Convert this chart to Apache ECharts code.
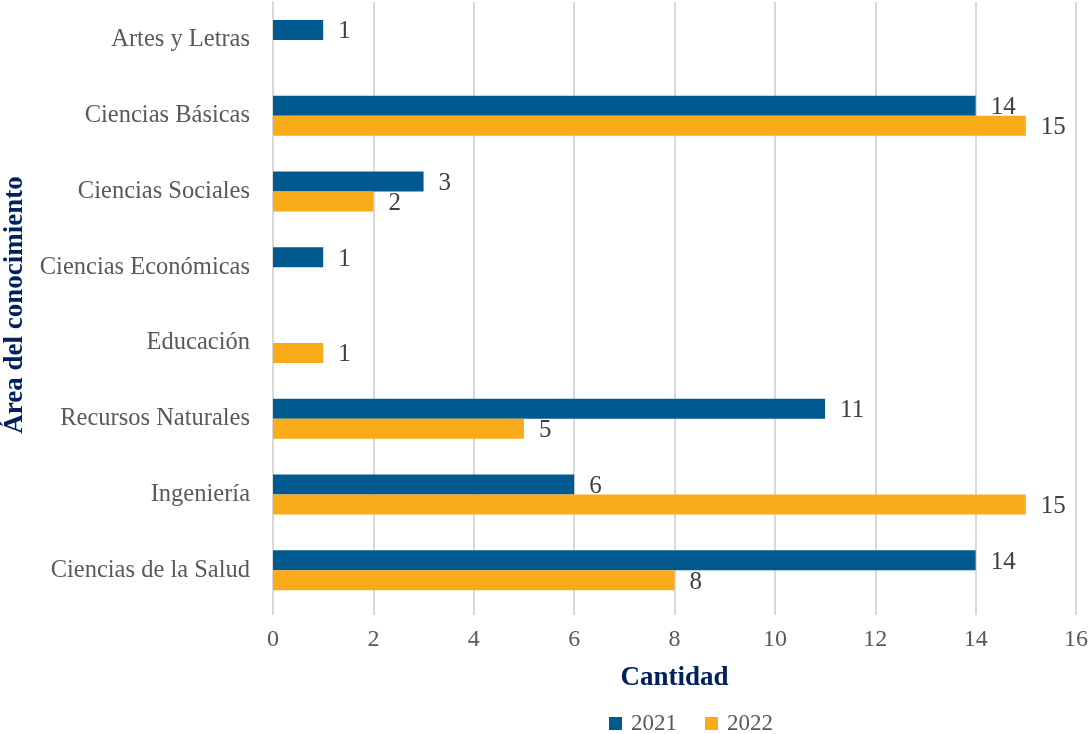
<!DOCTYPE html>
<html><head><meta charset="utf-8">
<script src="https://cdn.jsdelivr.net/npm/echarts@6/dist/echarts.min.js"></script>
<style>html,body{margin:0;padding:0;background:#fff}#c{width:1089px;height:734px}</style>
</head><body><div id="c"></div>
<script>
const categories = ['Artes y Letras','Ciencias Básicas','Ciencias Sociales','Ciencias Económicas','Educación','Recursos Naturales','Ingeniería','Ciencias de la Salud'];
const values2021 = [1, 14, 3, 1, null, 11, 6, 14];
const values2022 = [null, 15, 2, null, 1, 5, 15, 8];
const xTicks = [0, 2, 4, 6, 8, 10, 12, 14, 16];

const FONT = 'Liberation Serif';
const chart = echarts.init(document.getElementById('c'));
const lbl = {show: true, position: 'right', distance: 15, color: '#404040', fontFamily: FONT, fontSize: 25, offset: [0, 2]};
chart.setOption({
  animation: false,
  textStyle: {fontFamily: FONT},
  grid: {left: 273, right: 13, top: 2, bottom: 126, containLabel: false, outerBoundsMode: 'none'},
  legend: {
    top: 707, left: 604, itemWidth: 13, itemHeight: 13, itemGap: 28, icon: 'rect',
    textStyle: {fontFamily: FONT, fontSize: 23, color: '#595959', padding: [0, 0, 0, 4]},
    data: ['2021', '2022']
  },
  xAxis: {
    type: 'value', min: xTicks[0], max: xTicks[xTicks.length - 1], interval: 2,
    name: 'Cantidad', nameLocation: 'middle', nameGap: 57,
    nameTextStyle: {fontFamily: FONT, fontWeight: 'bold', fontSize: 27, color: '#002060'},
    axisLine: {show: false},
    axisTick: {show: true, length: 7, lineStyle: {color: '#D9D9D9', width: 2}},
    axisLabel: {margin: 20, color: '#595959', fontSize: 24, fontFamily: FONT},
    splitLine: {show: true, lineStyle: {color: '#D9D9D9', width: 2}}
  },
  yAxis: {
    type: 'category', data: categories, inverse: true,
    name: 'Área del conocimiento', nameLocation: 'middle', nameGap: 238, nameRotate: 90,
    nameTextStyle: {fontFamily: FONT, fontWeight: 'bold', fontSize: 27, color: '#002060'},
    axisLine: {show: true, lineStyle: {color: '#D9D9D9', width: 2}},
    axisTick: {show: false},
    axisLabel: {margin: 23, color: '#595959', fontSize: 24.5, fontFamily: FONT, padding: [3, 0, 0, 0]}
  },
  series: [
    {name: '2021', type: 'bar', data: values2021, barWidth: 20, barGap: '0%', barCategoryGap: '47%',
     itemStyle: {color: '#005A8F'}, label: lbl},
    {name: '2022', type: 'bar', data: values2022, barWidth: 20, barGap: '0%', barCategoryGap: '47%',
     itemStyle: {color: '#F9AB1A'}, label: lbl}
  ]
});
</script></body></html>
